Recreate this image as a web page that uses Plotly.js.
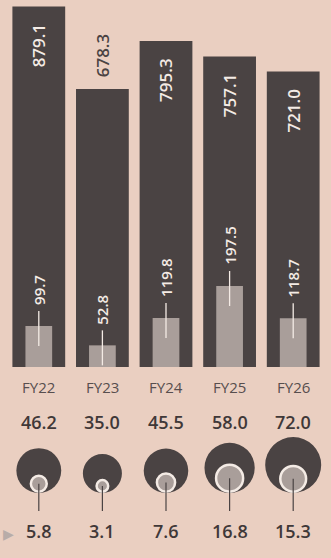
<!DOCTYPE html>
<html><head><meta charset="utf-8">
<script src="https://cdn.plot.ly/plotly-3.0.1.min.js"></script>
<style>html,body{margin:0;padding:0;background:#eacfc1}#chart{width:331px;height:558px}</style>
</head><body><div id="chart"></div>
<script>
const categories = ['FY22', 'FY23', 'FY24', 'FY25', 'FY26'];
const totalValues = [879.1, 678.3, 795.3, 757.1, 721.0];
const partValues = [99.7, 52.8, 119.8, 197.5, 118.7];
const circleTotals = [46.2, 35.0, 45.5, 58.0, 72.0];
const circleParts = [5.8, 3.1, 7.6, 16.8, 15.3];

const W = 331, H = 558;
const BG = '#eacfc1', DARK = '#4a4343', LIGHT = '#a99e9a', WHITE = '#f4ebe5';
const FONT = 'Open Sans, Roboto, sans-serif';
const baselinePx = 367;
const pxPerUnit = 0.41;
const py = p => (H - p) / H; // pixel-from-top to paper fraction

const idx = categories.map((c, i) => i);
const minTotal = Math.min(...totalValues);

const traces = [
  {type: 'bar', x: idx, y: totalValues, width: 0.83, marker: {color: DARK}, hoverinfo: 'skip'},
  {type: 'bar', x: idx, y: partValues, width: 0.42, marker: {color: LIGHT}, hoverinfo: 'skip'}
];

const annotations = [];
const shapes = [];

totalValues.forEach((v, i) => {
  const outside = v === minTotal;
  annotations.push({
    x: i, y: v, xref: 'x', yref: 'y', text: v.toFixed(1), showarrow: false,
    textangle: -90, yanchor: outside ? 'bottom' : 'top', yshift: outside ? 10 : -15,
    font: {family: FONT, size: 17, weight: 600, color: outside ? DARK : WHITE}
  });
});

partValues.forEach((v, i) => {
  shapes.push({type: 'line', xref: 'x', yref: 'y', x0: i, x1: i, ysizemode: 'pixel', yanchor: v,
    y0: -20, y1: 15, line: {color: WHITE, width: 1.3}});
  annotations.push({
    x: i, y: v, xref: 'x', yref: 'y', text: v.toFixed(1), showarrow: false,
    textangle: -90, yanchor: 'bottom', yshift: 19,
    font: {family: FONT, size: 15, weight: 600, color: WHITE}
  });
});

categories.forEach((c, i) => {
  annotations.push({x: i, y: py(387), xref: 'x', yref: 'paper', text: c, showarrow: false,
    yanchor: 'middle', font: {family: FONT, size: 15, color: '#574e4e'}});
});

const k = 3.3;
const circleBase = py(493);
circleTotals.forEach((v, i) => {
  const R = k * Math.sqrt(v);
  const r = k * Math.sqrt(circleParts[i]);
  annotations.push({x: i, y: py(422), xref: 'x', yref: 'paper', text: v.toFixed(1), showarrow: false,
    yanchor: 'middle', font: {family: FONT, size: 18, weight: 600, color: '#3f3838'}});
  shapes.push({type: 'circle', xref: 'x', yref: 'paper', xsizemode: 'pixel', ysizemode: 'pixel',
    xanchor: i, yanchor: circleBase, x0: -R, x1: R, y0: 0, y1: 2 * R,
    fillcolor: DARK, line: {width: 0}});
  shapes.push({type: 'circle', xref: 'x', yref: 'paper', xsizemode: 'pixel', ysizemode: 'pixel',
    xanchor: i, yanchor: circleBase, x0: -r, x1: r, y0: 1.3, y1: 1.3 + 2 * r,
    fillcolor: LIGHT, line: {width: 2.5, color: WHITE}});
  shapes.push({type: 'line', xref: 'x', yref: 'paper', ysizemode: 'pixel', yanchor: circleBase,
    x0: i, x1: i, y0: 1.3 + r, y1: -18, line: {color: DARK, width: 1.2}});
  annotations.push({x: i, y: py(531), xref: 'x', yref: 'paper', text: circleParts[i].toFixed(1), showarrow: false,
    yanchor: 'middle', font: {family: FONT, size: 18, weight: 600, color: '#3f3838'}});
});

annotations.push({x: 8 / W, y: py(534), xref: 'paper', yref: 'paper', text: '▶', showarrow: false,
  xanchor: 'center', yanchor: 'middle', font: {family: 'DejaVu Sans', size: 14, color: '#b8aca8'}});

const layout = {
  width: W, height: H,
  margin: {l: 0, r: 0, t: 0, b: 0},
  paper_bgcolor: BG, plot_bgcolor: BG,
  barmode: 'overlay', showlegend: false,
  xaxis: {domain: [7 / W, 325 / W], range: [-0.5, 4.5], showticklabels: false, showgrid: false,
    zeroline: false, showline: false, ticks: '', fixedrange: true},
  yaxis: {domain: [py(baselinePx), 1], range: [0, baselinePx / pxPerUnit], showticklabels: false,
    showgrid: false, zeroline: false, showline: false, ticks: '', fixedrange: true},
  annotations, shapes
};

Plotly.newPlot('chart', traces, layout, {displayModeBar: false, staticPlot: true});
</script></body></html>
